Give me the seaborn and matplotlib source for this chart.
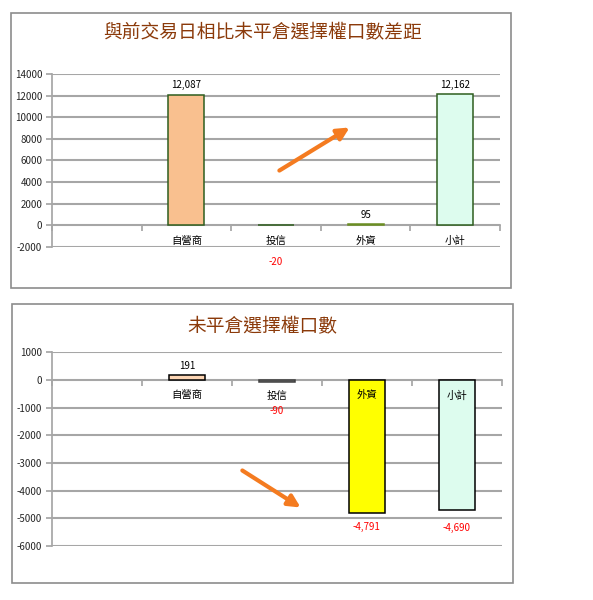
import pandas as pd
import seaborn as sns
import matplotlib
matplotlib.use("Agg")
import matplotlib.pyplot as plt
import matplotlib.patches as mpatches
from matplotlib.ticker import FixedLocator, NullFormatter

# 資料
categorias = ['自營商', '投信', '外資', '小計']
diferenca = [12087, -20, 95, 12162]        # 與前交易日相比未平倉選擇權口數差距
oi_valores = [191, -90, -4791, -4690]      # 未平倉選擇權口數

titulo_cima = '與前交易日相比未平倉選擇權口數差距'
titulo_baixo = '未平倉選擇權口數'

cores_cima = ['#F9C08F', '#2E5E1E', '#9ACD32', '#DDFCEE']
borda_cima = ['#2E5E1E', '#2E5E1E', '#6B8E23', '#2E5E1E']
cores_baixo = ['#FCD5B4', '#7F7F7F', '#FFFF00', '#DDFCEE']
borda_baixo = ['#000000', '#404040', '#000000', '#000000']

sns.set_theme(style="white")
plt.rcParams['font.family'] = ['Noto Sans CJK TC', 'DejaVu Sans']
plt.rcParams['axes.unicode_minus'] = False

W, H = 593, 600
fig = plt.figure(figsize=(W / 100, H / 100), dpi=100)


def fx(px):
    return px / W


def fy(py):
    return 1 - py / H


def grafico(ax, valores, cores, bordas, ylim, passo, titulo, titulo_y, desl_neg):
    df = pd.DataFrame({'cat': categorias, 'val': valores})
    sns.barplot(data=df, x='cat', y='val', hue='cat', order=categorias,
                hue_order=categorias, palette=dict(zip(categorias, cores)),
                width=0.4, legend=False, linewidth=1.1, saturation=1, ax=ax)
    for cont, ec in zip(ax.containers, bordas):
        for p in cont:
            p.set_edgecolor(ec)
            p.set_zorder(3)

    ax.set_xlim(-1.5, 3.5)
    ax.set_ylim(*ylim)
    ax.yaxis.set_major_locator(FixedLocator(range(ylim[0], ylim[1] + 1, passo)))
    ax.yaxis.grid(True, color='#A6A6A6', linewidth=1.5)
    ax.xaxis.grid(False)
    ax.set_axisbelow(True)

    # eixo das categorias na linha do zero
    ax.spines['bottom'].set_position(('data', 0))
    ax.spines['bottom'].set_color('#A6A6A6')
    ax.spines['left'].set_color('#A6A6A6')
    ax.spines['top'].set_visible(False)
    ax.spines['right'].set_visible(False)
    ax.xaxis.set_major_locator(FixedLocator([-1.5, -0.5, 0.5, 1.5, 2.5, 3.5]))
    ax.xaxis.set_major_formatter(NullFormatter())
    ax.tick_params(axis='x', which='major', direction='out', length=4,
                   color='#A6A6A6', bottom=True)
    ax.tick_params(axis='y', direction='out', length=4, color='#A6A6A6',
                   labelsize=7, pad=3, left=True)
    ax.set_xlabel('')
    ax.set_ylabel('')

    # nomes das categorias por cima das barras
    for i, c in enumerate(categorias):
        ax.annotate(c, (i, 0), xytext=(0, -7.5), textcoords='offset points',
                    ha='center', va='top', fontsize=7.5, color='black', zorder=6)

    for i, v in enumerate(valores):
        if v >= 0:
            ax.annotate(f'{v:,}', (i, v), xytext=(0, 3), textcoords='offset points',
                        ha='center', va='bottom', fontsize=7, color='black')
        else:
            ax.annotate(f'{v:,}', (i, v), xytext=(0, desl_neg[i]), textcoords='offset points',
                        ha='center', va='top', fontsize=7, color='#FF0000')

    fig.text(fx(262), fy(titulo_y), titulo, ha='center', va='center',
             fontsize=13.5, color='#8B3A0A')


# ----- gráfico de cima -----
ax1 = fig.add_axes([fx(52), fy(246.7), fx(500) - fx(52), fy(74) - fy(246.7)])
grafico(ax1, diferenca, cores_cima, borda_cima, (-2000, 14000), 2000,
        titulo_cima, 33, [0, -23, 0, 0])

# ----- gráfico de baixo -----
ax2 = fig.add_axes([fx(52), fy(546), fx(501.7) - fx(52), fy(352.3) - fy(546)])
grafico(ax2, oi_valores, cores_baixo, borda_baixo, (-6000, 1000), 1000,
        titulo_baixo, 327, [0, -17, -7, -9.5])

# molduras
for (x0, y0, x1, y1) in [(11, 13, 511, 288), (12, 304, 513, 583)]:
    fig.patches.append(mpatches.Rectangle((fx(x0), fy(y1)), fx(x1) - fx(x0),
                                          fy(y0) - fy(y1), transform=fig.transFigure,
                                          fill=False, edgecolor='#8C8C8C', linewidth=1.2))

# setas
for (xa, ya, xb, yb) in [(277, 172, 352, 126), (240, 469, 303, 509)]:
    fig.add_artist(mpatches.FancyArrowPatch((fx(xa), fy(ya)), (fx(xb), fy(yb)),
                                            transform=fig.transFigure,
                                            arrowstyle='-|>', mutation_scale=18,
                                            linewidth=3, color='#F47B20'))

fig.savefig('out.png', dpi=100)
